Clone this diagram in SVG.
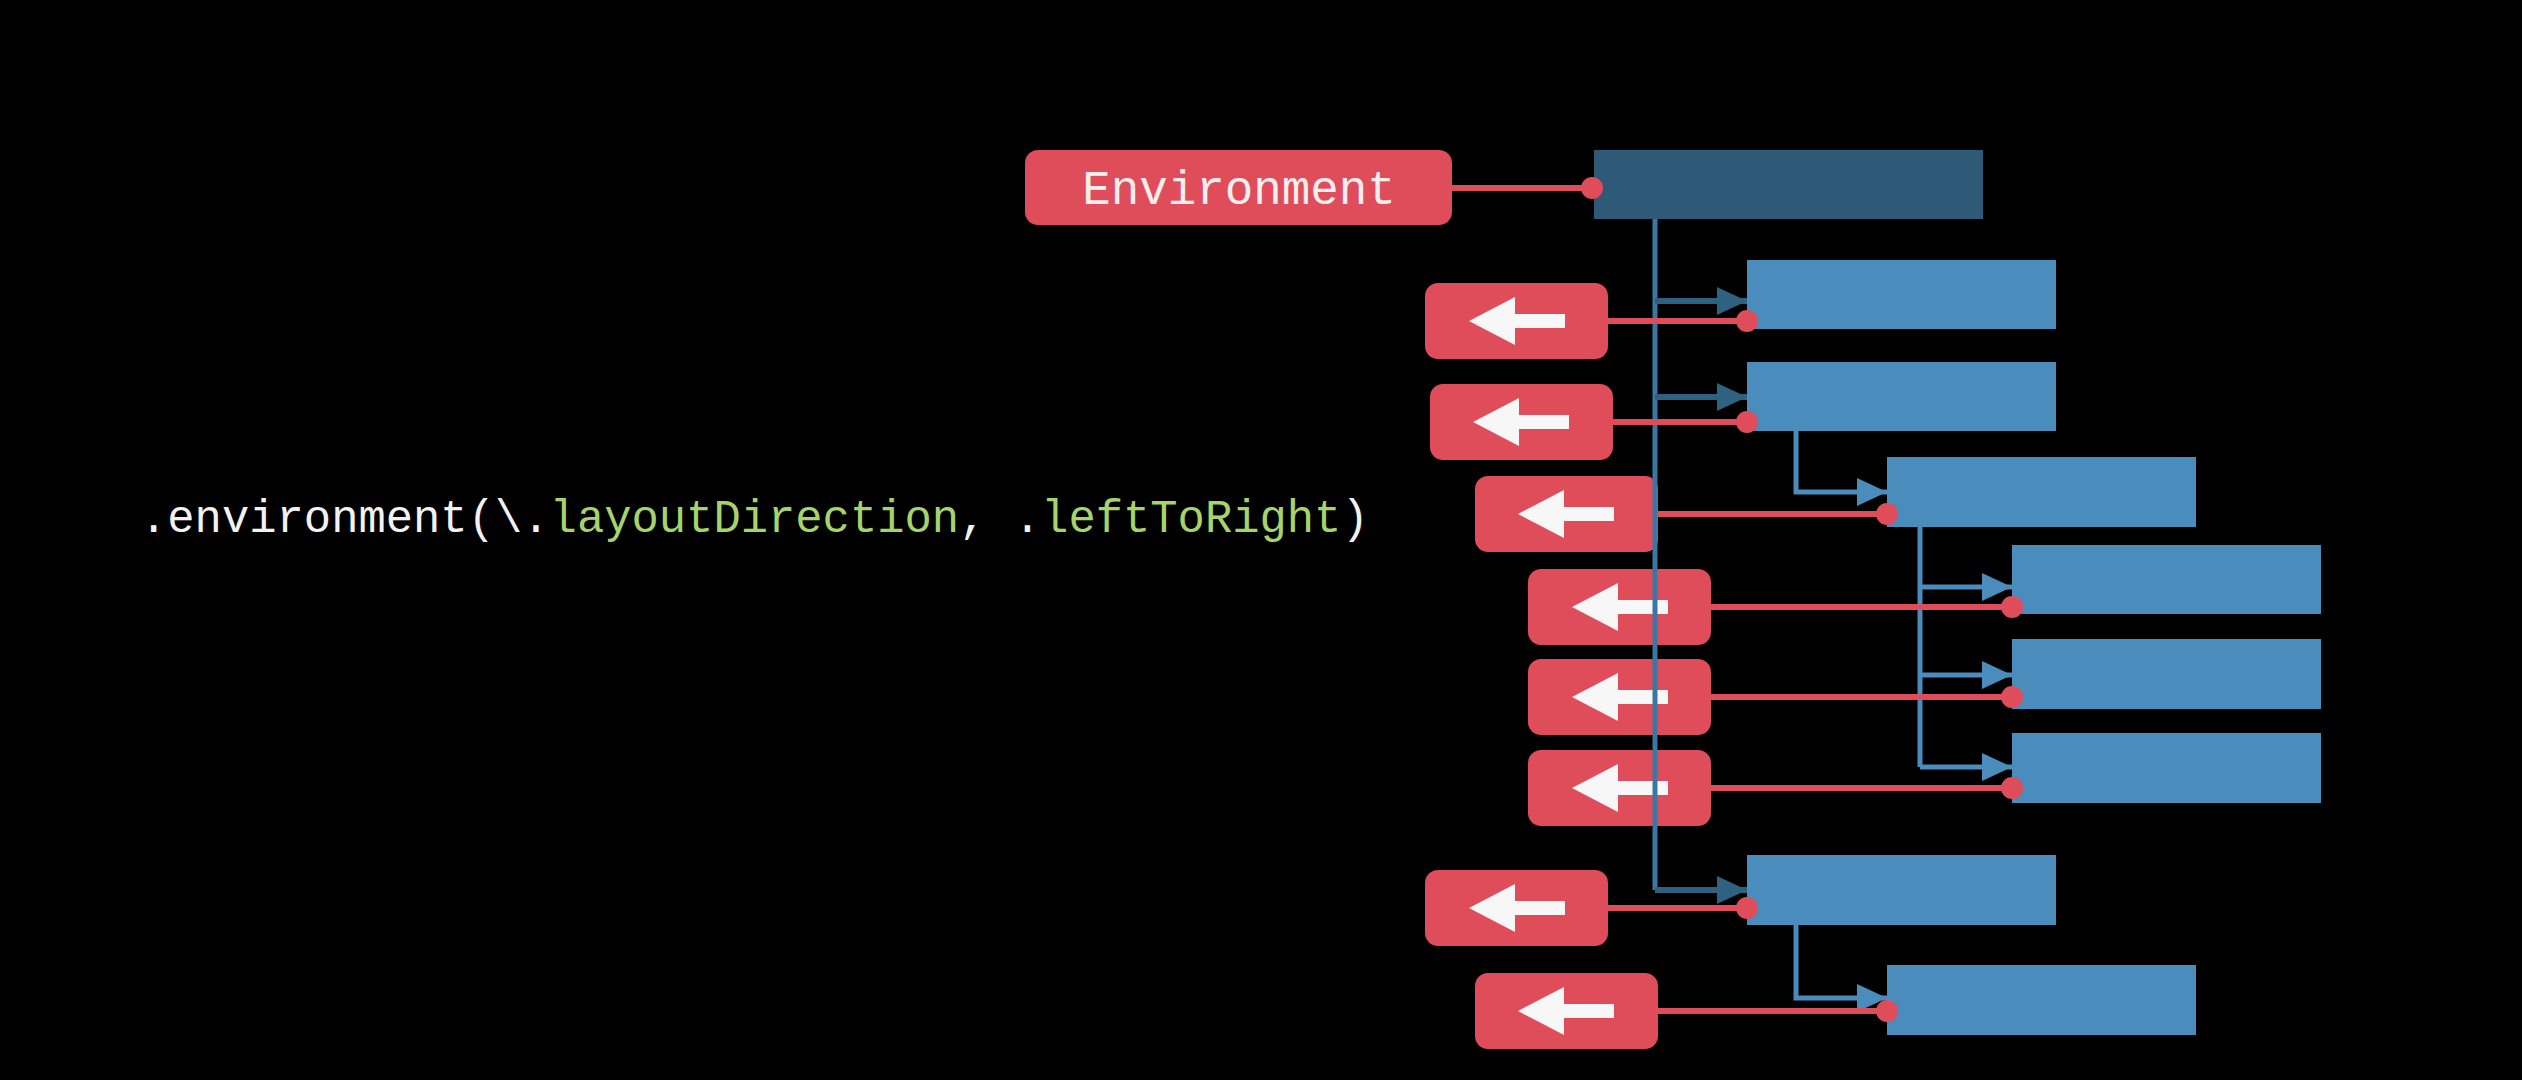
<svg xmlns="http://www.w3.org/2000/svg" xmlns:xlink="http://www.w3.org/1999/xlink" width="2522" height="1080" viewBox="0 0 2522 1080">
<style>
.bg{fill:#000}
.env{fill:#df4d5b}
.rbox{fill:#df4d5b}
.wa{fill:#f7f7f7}
.bbox{fill:#4a8cbb}
.dbox{fill:#2e5a77}
.trunk{fill:none;stroke:#3a78a3;stroke-width:5}
.dk{fill:none;stroke:#2f6180;stroke-width:6}
.lt{fill:none;stroke:#4a8cbb;stroke-width:5}
.rl{fill:none;stroke:#df4d5b;stroke-width:6}
.dot{fill:#df4d5b}
.mono{font-family:"Liberation Mono","DejaVu Sans Mono",monospace}
.code{font-size:45.5px;fill:#f2f2f2}
.kw{fill:#a6d36a}
.envt{font-size:47.5px;fill:#fbeeee}
</style>
<defs>
<marker id="ahd" viewBox="0 0 30 28" refX="30" refY="14" markerWidth="30" markerHeight="28" markerUnits="userSpaceOnUse" orient="auto"><path d="M0 0 L30 14 L0 28 Z" fill="#2f6180"/></marker>
<marker id="ahl" viewBox="0 0 30 28" refX="30" refY="14" markerWidth="30" markerHeight="28" markerUnits="userSpaceOnUse" orient="auto"><path d="M0 0 L30 14 L0 28 Z" fill="#4a8cbb"/></marker>
<path id="larrow" d="M-48 0 L-2 -24 L-2 -7 L48 -7 L48 7 L-2 7 L-2 24 Z"/>
</defs>
<rect class="bg" x="0" y="0" width="2522" height="1080"/>

<g id="code">
<text class="mono code" x="140" y="532">.environment(\.<tspan class="kw">layoutDirection</tspan>, .<tspan class="kw">leftToRight</tspan>)</text>
</g>

<g id="view-root"><rect class="dbox" x="1594" y="150" width="389" height="69"/></g>
<g id="view-1"><rect class="bbox" x="1747" y="260" width="309" height="69"/></g>
<g id="view-2"><rect class="bbox" x="1747" y="362" width="309" height="69"/></g>
<g id="view-3"><rect class="bbox" x="1887" y="457" width="309" height="70"/></g>
<g id="view-4"><rect class="bbox" x="2012" y="545" width="309" height="69"/></g>
<g id="view-5"><rect class="bbox" x="2012" y="639" width="309" height="70"/></g>
<g id="view-6"><rect class="bbox" x="2012" y="733" width="309" height="70"/></g>
<g id="view-7"><rect class="bbox" x="1747" y="855" width="309" height="70"/></g>
<g id="view-8"><rect class="bbox" x="1887" y="965" width="309" height="70"/></g>

<g id="environment">
<rect class="env" x="1025" y="150" width="427" height="75" rx="13"/>
<text class="mono envt" x="1239" y="204" text-anchor="middle">Environment</text>
</g>
<g id="dir-1"><rect class="rbox" x="1425" y="283" width="183" height="76" rx="13"/><use xlink:href="#larrow" class="wa" x="1517" y="321"/></g>
<g id="dir-2"><rect class="rbox" x="1430" y="384" width="183" height="76" rx="13"/><use xlink:href="#larrow" class="wa" x="1521" y="422"/></g>
<g id="dir-3"><rect class="rbox" x="1475" y="476" width="183" height="76" rx="13"/><use xlink:href="#larrow" class="wa" x="1566" y="514"/></g>
<g id="dir-4"><rect class="rbox" x="1528" y="569" width="183" height="76" rx="13"/><use xlink:href="#larrow" class="wa" x="1620" y="607"/></g>
<g id="dir-5"><rect class="rbox" x="1528" y="659" width="183" height="76" rx="13"/><use xlink:href="#larrow" class="wa" x="1620" y="697"/></g>
<g id="dir-6"><rect class="rbox" x="1528" y="750" width="183" height="76" rx="13"/><use xlink:href="#larrow" class="wa" x="1620" y="788"/></g>
<g id="dir-7"><rect class="rbox" x="1425" y="870" width="183" height="76" rx="13"/><use xlink:href="#larrow" class="wa" x="1517" y="908"/></g>
<g id="dir-8"><rect class="rbox" x="1475" y="973" width="183" height="76" rx="13"/><use xlink:href="#larrow" class="wa" x="1566" y="1011"/></g>

<g id="connectors">
<path class="trunk" d="M1655 219 V890"/>
<path class="dk" d="M1655 301 H1747" marker-end="url(#ahd)"/>
<path class="dk" d="M1655 397 H1747" marker-end="url(#ahd)"/>
<path class="dk" d="M1655 890 H1747" marker-end="url(#ahd)"/>
<path class="lt" d="M1796 431 V492 H1887" marker-end="url(#ahl)"/>
<path class="lt" d="M1920 527 V767"/>
<path class="lt" d="M1920 587 H2012" marker-end="url(#ahl)"/>
<path class="lt" d="M1920 675 H2012" marker-end="url(#ahl)"/>
<path class="lt" d="M1920 767 H2012" marker-end="url(#ahl)"/>
<path class="lt" d="M1796 925 V998 H1887" marker-end="url(#ahl)"/>

<path class="rl" d="M1452 188 H1592"/><circle class="dot" cx="1592" cy="188" r="11"/>
<path class="rl" d="M1608 321 H1747"/><circle class="dot" cx="1747" cy="321" r="11"/>
<path class="rl" d="M1613 422 H1747"/><circle class="dot" cx="1747" cy="422" r="11"/>
<path class="rl" d="M1658 514 H1887"/><circle class="dot" cx="1887" cy="514" r="11"/>
<path class="rl" d="M1711 607 H2012"/><circle class="dot" cx="2012" cy="607" r="11"/>
<path class="rl" d="M1711 697 H2012"/><circle class="dot" cx="2012" cy="697" r="11"/>
<path class="rl" d="M1711 788 H2012"/><circle class="dot" cx="2012" cy="788" r="11"/>
<path class="rl" d="M1608 908 H1747"/><circle class="dot" cx="1747" cy="908" r="11"/>
<path class="rl" d="M1658 1011 H1887"/><circle class="dot" cx="1887" cy="1011" r="11"/>
</g>
</svg>
